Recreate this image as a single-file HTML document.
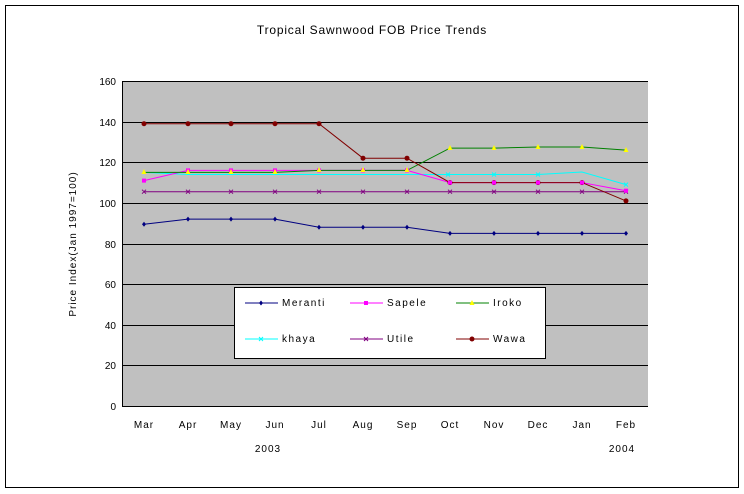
<!DOCTYPE html>
<html><head><style>body{margin:0;background:#fff}svg{display:block}text{font-family:"Liberation Sans",Arial,sans-serif;fill:#000}</style></head><body>
<svg width="744" height="494" xmlns="http://www.w3.org/2000/svg">
<rect x="5.5" y="5.5" width="733" height="482" fill="#fff" stroke="#000"/>
<text x="372" y="34" font-size="12" text-anchor="middle" letter-spacing="0.8">Tropical Sawnwood FOB Price Trends</text>
<rect x="122" y="81" width="526" height="325" fill="#c0c0c0"/>
<g stroke="#000" stroke-width="1">
<line x1="122" y1="81.5" x2="648" y2="81.5"/><line x1="122" y1="122.5" x2="648" y2="122.5"/><line x1="122" y1="162.5" x2="648" y2="162.5"/><line x1="122" y1="203.5" x2="648" y2="203.5"/><line x1="122" y1="244.5" x2="648" y2="244.5"/><line x1="122" y1="284.5" x2="648" y2="284.5"/><line x1="122" y1="325.5" x2="648" y2="325.5"/><line x1="122" y1="365.5" x2="648" y2="365.5"/>
<line x1="122.5" y1="81" x2="122.5" y2="406"/><line x1="122" y1="406.5" x2="648" y2="406.5"/>
</g>
<g font-size="10" text-anchor="end">
<text x="116" y="85">160</text><text x="116" y="126">140</text><text x="116" y="166">120</text><text x="116" y="207">100</text><text x="116" y="248">80</text><text x="116" y="288">60</text><text x="116" y="329">40</text><text x="116" y="369">20</text><text x="116" y="410">0</text>
</g>
<text transform="translate(76,244) rotate(-90)" font-size="10" text-anchor="middle" letter-spacing="1">Price Index(Jan 1997=100)</text>
<g font-size="10" text-anchor="middle" letter-spacing="1">
<text x="144" y="428">Mar</text><text x="188" y="428">Apr</text><text x="231" y="428">May</text><text x="275" y="428">Jun</text><text x="319" y="428">Jul</text><text x="363" y="428">Aug</text><text x="407" y="428">Sep</text><text x="450" y="428">Oct</text><text x="494" y="428">Nov</text><text x="538" y="428">Dec</text><text x="582" y="428">Jan</text><text x="626" y="428">Feb</text>
<text x="268" y="452">2003</text><text x="622" y="452">2004</text>
</g>
<g fill="none">
<polyline stroke="#00ffff" points="144,172.4 188,174.5 231,174.5 275,174.5 319,174.5 363,174.5 407,174.5 450,174.5 494,174.5 538,174.5 582,172 626,184.6"/>
<polyline stroke="#800080" points="144,191.7 626,191.7"/>
<polyline stroke="#ff00ff" points="144,180.6 188,170.4 231,170.4 275,170.4 319,170.4 363,170.4 407,170.4 450,182.6 494,182.6 538,182.6 582,182.6 626,190.7"/>
<polyline stroke="#008000" points="144,172.4 188,172.4 231,172.4 275,172.4 319,170.4 363,170.4 407,170.4 450,148.1 494,148.1 538,147 582,147 626,150.1"/>
<polyline stroke="#800000" points="144,123.7 188,123.7 231,123.7 275,123.7 319,123.7 363,158.2 407,158.2 450,182.6 494,182.6 538,182.6 582,182.6 626,200.9"/>
<polyline stroke="#000080" points="144,224.2 188,219.1 231,219.1 275,219.1 319,227.3 363,227.3 407,227.3 450,233.4 494,233.4 538,233.4 582,233.4 626,233.4"/>
</g>
<g stroke="#800080" stroke-width="1"><path d="M142,189.7 l4,4 M146,189.7 l-4,4 M186,189.7 l4,4 M190,189.7 l-4,4 M229,189.7 l4,4 M233,189.7 l-4,4 M273,189.7 l4,4 M277,189.7 l-4,4 M317,189.7 l4,4 M321,189.7 l-4,4 M361,189.7 l4,4 M365,189.7 l-4,4 M405,189.7 l4,4 M409,189.7 l-4,4 M448,189.7 l4,4 M452,189.7 l-4,4 M492,189.7 l4,4 M496,189.7 l-4,4 M536,189.7 l4,4 M540,189.7 l-4,4 M580,189.7 l4,4 M584,189.7 l-4,4 M624,189.7 l4,4 M628,189.7 l-4,4"/></g>
<g stroke="#00ffff" stroke-width="1"><path d="M446,172.5 l4,4 M450,172.5 l-4,4 M492,172.5 l4,4 M496,172.5 l-4,4 M536,172.5 l4,4 M540,172.5 l-4,4 M624,182.6 l4,4 M628,182.6 l-4,4"/></g>
<g fill="#800000"><circle cx="144" cy="123.7" r="2.5"/><circle cx="188" cy="123.7" r="2.5"/><circle cx="231" cy="123.7" r="2.5"/><circle cx="275" cy="123.7" r="2.5"/><circle cx="319" cy="123.7" r="2.5"/><circle cx="363" cy="158.2" r="2.5"/><circle cx="407" cy="158.2" r="2.5"/><circle cx="450" cy="182.6" r="2.5"/><circle cx="494" cy="182.6" r="2.5"/><circle cx="538" cy="182.6" r="2.5"/><circle cx="582" cy="182.6" r="2.5"/><circle cx="626" cy="200.9" r="2.5"/></g>
<g fill="#ff00ff"><rect x="142" y="178.6" width="4" height="4"/><rect x="186" y="168.4" width="4" height="4"/><rect x="229" y="168.4" width="4" height="4"/><rect x="273" y="168.4" width="4" height="4"/><rect x="317" y="168.4" width="4" height="4"/><rect x="361" y="168.4" width="4" height="4"/><rect x="405" y="168.4" width="4" height="4"/><rect x="448" y="180.6" width="4" height="4"/><rect x="492" y="180.6" width="4" height="4"/><rect x="536" y="180.6" width="4" height="4"/><rect x="580" y="180.6" width="4" height="4"/><rect x="624" y="188.7" width="4" height="4"/></g>
<g fill="#ffff00"><path d="M144,169 l2.5,5 h-5z M188,169 l2.5,5 h-5z M231,169 l2.5,5 h-5z M275,169 l2.5,5 h-5z M319,167 l2.5,5 h-5z M363,167 l2.5,5 h-5z M407,167 l2.5,5 h-5z M450,145 l2.5,5 h-5z M494,145 l2.5,5 h-5z M538,144 l2.5,5 h-5z M582,144 l2.5,5 h-5z M626,147 l2.5,5 h-5z"/></g>
<g fill="#000080"><path d="M144,221.7 l2,2.5 -2,2.5 -2,-2.5z M188,216.6 l2,2.5 -2,2.5 -2,-2.5z M231,216.6 l2,2.5 -2,2.5 -2,-2.5z M275,216.6 l2,2.5 -2,2.5 -2,-2.5z M319,224.8 l2,2.5 -2,2.5 -2,-2.5z M363,224.8 l2,2.5 -2,2.5 -2,-2.5z M407,224.8 l2,2.5 -2,2.5 -2,-2.5z M450,230.9 l2,2.5 -2,2.5 -2,-2.5z M494,230.9 l2,2.5 -2,2.5 -2,-2.5z M538,230.9 l2,2.5 -2,2.5 -2,-2.5z M582,230.9 l2,2.5 -2,2.5 -2,-2.5z M626,230.9 l2,2.5 -2,2.5 -2,-2.5z"/></g>
<rect x="234.5" y="287.5" width="311" height="71" fill="#fff" stroke="#000"/>
<g font-size="10" letter-spacing="1.5">
<line x1="245" y1="303" x2="278" y2="303" stroke="#000080"/><path d="M261,300.5 l2,2.5 -2,2.5 -2,-2.5z" fill="#000080"/><text x="282" y="306">Meranti</text>
<line x1="350" y1="303" x2="383" y2="303" stroke="#ff00ff"/><rect x="364" y="301" width="4" height="4" fill="#ff00ff"/><text x="387" y="306">Sapele</text>
<line x1="456" y1="303" x2="489" y2="303" stroke="#008000"/><path d="M472,300 l2.5,5 h-5z" fill="#ffff00"/><text x="493" y="306">Iroko</text>
<line x1="245" y1="339" x2="278" y2="339" stroke="#00ffff"/><path d="M259,337 l4,4 M263,337 l-4,4" stroke="#00ffff"/><text x="282" y="342">khaya</text>
<line x1="350" y1="339" x2="383" y2="339" stroke="#800080"/><path d="M364,337 l4,4 M368,337 l-4,4" stroke="#800080"/><text x="387" y="342">Utile</text>
<line x1="456" y1="339" x2="489" y2="339" stroke="#800000"/><circle cx="472" cy="339" r="2.5" fill="#800000"/><text x="493" y="342">Wawa</text>
</g>
</svg>
</body></html>
